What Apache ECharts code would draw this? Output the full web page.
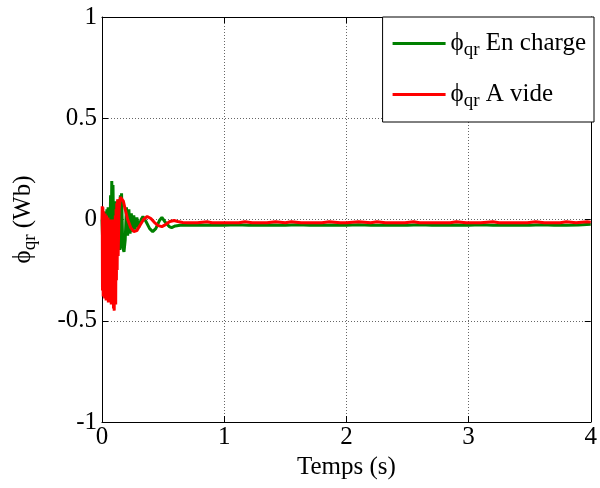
<!DOCTYPE html>
<html>
<head>
<meta charset="utf-8">
<script src="https://cdn.jsdelivr.net/npm/echarts@6/dist/echarts.min.js"></script>
<style>html,body{margin:0;padding:0;background:#fff}#c{width:600px;height:488px}</style>
</head>
<body>
<div id="c"></div>
<script>
// Series names
const seriesNames = ['En charge', 'A vide'];
// Tick values
const xTicks = [0, 1, 2, 3, 4];
const yTicks = [-1, -0.5, 0, 0.5, 1];

// "En charge" (green) : time (s) and flux (Wb)
const greenT = [0,0.005,0.01,0.015,0.02,0.025,0.03,0.035,0.04,0.045,0.05,0.055,0.06,0.065,0.07,0.075,0.08,0.085,0.09,0.095,0.10,0.105,0.11,0.115,0.12,0.125,0.13,0.135,0.14,0.145,0.15,0.155,0.16,0.17,0.18,0.19,0.20,0.21,0.22,0.23,0.24,0.25,0.26,0.27,0.285,0.30,0.32,0.335,0.36,0.39,0.415,0.44,0.47,0.49,0.52,0.55,0.57,0.60,0.64,0.7,0.8,0.9,1.0,1.1,1.2,1.3,1.4,1.5,1.6,1.7,1.8,1.9,2.0,2.1,2.2,2.3,2.4,2.5,2.6,2.7,2.8,2.9,3.0,3.1,3.2,3.3,3.4,3.5,3.6,3.7,3.8,3.9,4.0];
const greenV = [0,-0.1,0.02,-0.2,0.03,-0.15,0.04,-0.2,0.05,-0.18,0.06,-0.15,0.03,-0.12,0.12,-0.1,0.19,-0.05,0.17,-0.08,0.08,-0.12,0.09,-0.1,0.06,-0.14,0.05,-0.12,0.10,-0.15,0.12,-0.1,0.13,-0.14,-0.16,-0.1,0.06,-0.08,0.05,-0.07,0.03,-0.06,0.02,-0.05,0.01,-0.04,0.0,0.015,-0.01,-0.045,-0.06,-0.045,-0.005,0.01,-0.015,-0.035,-0.04,-0.032,-0.028,-0.028,-0.027,-0.029,-0.028,-0.026,-0.028,-0.029,-0.027,-0.028,-0.026,-0.028,-0.029,-0.027,-0.028,-0.026,-0.028,-0.028,-0.027,-0.029,-0.026,-0.028,-0.028,-0.027,-0.029,-0.026,-0.028,-0.028,-0.027,-0.029,-0.026,-0.028,-0.028,-0.027,-0.024];

// "A vide" (red) : time (s) and flux (Wb)
const redT = [0,0.002,0.004,0.007,0.010,0.013,0.016,0.019,0.022,0.025,0.028,0.031,0.034,0.037,0.040,0.043,0.046,0.049,0.052,0.055,0.058,0.061,0.064,0.067,0.070,0.073,0.076,0.079,0.082,0.085,0.088,0.091,0.094,0.097,0.100,0.103,0.106,0.109,0.112,0.115,0.118,0.121,0.124,0.128,0.132,0.14,0.15,0.165,0.175,0.19,0.21,0.235,0.26,0.285,0.31,0.34,0.37,0.40,0.43,0.46,0.49,0.52,0.555,0.59,0.62,0.66,0.7,0.78,0.86,0.9,0.98,1.12,1.17,1.23,1.35,1.42,1.5,1.55,1.63,1.8,1.86,1.95,2.0,2.1,2.2,2.25,2.32,2.48,2.55,2.6,2.7,2.85,2.9,2.98,3.1,3.2,3.25,3.33,3.48,3.55,3.62,3.75,3.8,3.88,3.97,4.0];
const redV = [0,0.065,-0.35,0.06,-0.38,0.04,-0.36,0.02,-0.39,0.03,-0.37,0.0,-0.40,0.02,-0.38,0.0,-0.33,0.01,-0.41,0.0,-0.36,-0.01,-0.39,0.0,-0.30,-0.02,-0.42,0.0,-0.37,-0.01,-0.40,0.0,-0.44,-0.02,-0.45,0.0,-0.38,0.02,-0.42,0.05,-0.30,0.08,-0.25,0.10,-0.18,0.05,0.11,0.115,0.09,0.05,0.0,-0.04,-0.06,-0.055,-0.03,0.0,0.015,0.005,-0.015,-0.03,-0.035,-0.025,-0.01,-0.005,-0.01,-0.015,-0.016,-0.016,-0.011,-0.016,-0.016,-0.016,-0.011,-0.016,-0.016,-0.011,-0.016,-0.011,-0.016,-0.016,-0.011,-0.016,-0.016,-0.011,-0.016,-0.011,-0.016,-0.016,-0.011,-0.016,-0.016,-0.016,-0.011,-0.016,-0.016,-0.011,-0.016,-0.016,-0.016,-0.011,-0.016,-0.016,-0.011,-0.016,-0.011,-0.013];

const zip = (t, v) => t.map((x, i) => [x, v[i]]);
const FONT = 'Liberation Serif';

const chart = echarts.init(document.getElementById('c'), null, {renderer: 'canvas'});
const rich = {
  phi: {fontFamily: FONT, fontSize: 25, color: '#000'},
  sub: {fontFamily: FONT, fontSize: 19, color: '#000', padding: [14, 0, 0, 0]},
  txt: {fontFamily: FONT, fontSize: 25, color: '#000'}
};
const gridLine = {show: true, lineStyle: {color: '#666', type: [1, 2], width: 1}};
const axisLine = {show: true, onZero: false, lineStyle: {color: '#000', width: 1}};

chart.setOption({
  animation: false,
  backgroundColor: '#fff',
  grid: {left: 102, right: 6, top: 17, bottom: 66},
  legend: {
    orient: 'vertical', right: 6, top: 17,
    backgroundColor: '#fff', borderColor: '#000', borderWidth: 1,
    padding: [14, 8, 11, 10], itemGap: 22, itemWidth: 53, itemHeight: 3, icon: 'rect',
    data: seriesNames,
    formatter: n => '{phi|ϕ}{sub|qr}{txt| ' + n + '}',
    textStyle: {fontFamily: FONT, fontSize: 25, color: '#000', rich: rich}
  },
  xAxis: [{
    type: 'value', min: xTicks[0], max: xTicks[xTicks.length - 1], interval: 1,
    axisLine: axisLine, axisTick: {show: true, inside: true, length: 6, lineStyle: {color: '#000'}},
    axisLabel: {fontFamily: FONT, fontSize: 25, color: '#000', margin: 3},
    splitLine: gridLine,
    name: 'Temps (s)', nameLocation: 'middle', nameGap: 30,
    nameTextStyle: {fontFamily: FONT, fontSize: 25, color: '#000'}
  }, {
    type: 'value', position: 'top', min: xTicks[0], max: xTicks[xTicks.length - 1], interval: 1,
    axisLine: axisLine, axisTick: {show: true, inside: true, length: 6, lineStyle: {color: '#000'}},
    axisLabel: {show: false}, splitLine: {show: false}
  }],
  yAxis: [{
    type: 'value', min: yTicks[0], max: yTicks[yTicks.length - 1], interval: 0.5,
    axisLine: axisLine, axisTick: {show: true, inside: true, length: 6, lineStyle: {color: '#000'}},
    axisLabel: {fontFamily: FONT, fontSize: 25, color: '#000', margin: 5},
    splitLine: gridLine,
    name: '{phi|ϕ}{sub|qr}{txt| (Wb)}', nameLocation: 'middle', nameGap: 62, nameRotate: 90,
    nameTextStyle: {fontFamily: FONT, fontSize: 25, color: '#000', rich: rich}
  }, {
    type: 'value', position: 'right', min: yTicks[0], max: yTicks[yTicks.length - 1], interval: 0.5,
    axisLine: axisLine, axisTick: {show: true, inside: true, length: 6, lineStyle: {color: '#000'}},
    axisLabel: {show: false}, splitLine: {show: false}
  }],
  series: [{
    name: seriesNames[0], type: 'line', data: zip(greenT, greenV), showSymbol: false,
    lineStyle: {color: '#008000', width: 3}, itemStyle: {color: '#008000'}, z: 2
  }, {
    name: seriesNames[1], type: 'line', data: zip(redT, redV), showSymbol: false,
    lineStyle: {color: '#ff0000', width: 3}, itemStyle: {color: '#ff0000'}, z: 3
  }]
});
</script>
</body>
</html>
